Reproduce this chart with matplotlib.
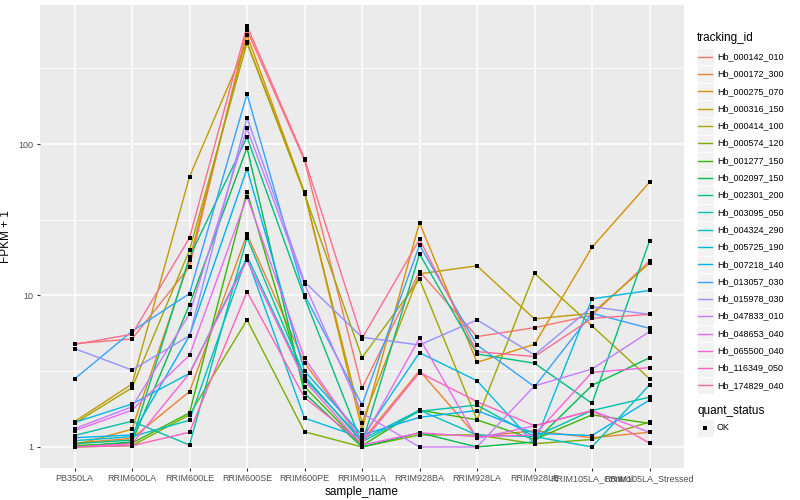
import numpy as np
import matplotlib
matplotlib.use('Agg')
import matplotlib.pyplot as plt
from matplotlib.lines import Line2D
from matplotlib.patches import Rectangle

plt.rcParams['font.family'] = ['Liberation Sans', 'DejaVu Sans']

samples = ['PB350LA', 'RRIM600LA', 'RRIM600LE', 'RRIM600SE', 'RRIM600PE', 'RRIM901LA',
           'RRIM928BA', 'RRIM928LA', 'RRIM928LE', 'RRIM105LA_Control', 'RRIM105LA_Stressed']

tracking_ids = ['Hb_000142_010', 'Hb_000172_300', 'Hb_000275_070', 'Hb_000316_150',
                'Hb_000414_100', 'Hb_000574_120', 'Hb_001277_150', 'Hb_002097_150',
                'Hb_002301_200', 'Hb_003095_050', 'Hb_004324_290', 'Hb_005725_190',
                'Hb_007218_140', 'Hb_013057_030', 'Hb_015978_030', 'Hb_047833_010',
                'Hb_048653_040', 'Hb_065500_040', 'Hb_116349_050', 'Hb_174829_040']

# FPKM + 1 per gene, one value per sample
fpkm1 = [
    [4.81, 5.16, 15.5, 566, 78, 2.44, 14.4, 5.35, 6.13, 7.4, 16.9],
    [1.06, 1.14, 2.32, 25.3, 3.6, 1.1, 3.19, 1.17, 1.28, 1.15, 1.25],
    [1.03, 1.31, 17.1, 525, 48, 1.3, 30.2, 3.62, 4.76, 20.8, 55.9],
    [1.47, 2.6, 60.8, 471, 47.5, 1.45, 13.9, 15.7, 7.0, 7.63, 16.3],
    [1.43, 2.46, 19.9, 464, 47, 3.89, 12.8, 1.51, 14.0, 6.3, 2.82],
    [1.0, 1.02, 1.63, 6.9, 1.26, 1.0, 1.2, 1.2, 1.05, 1.12, 1.46],
    [1.02, 1.06, 1.68, 48.4, 2.5, 1.02, 1.75, 1.51, 1.12, 1.63, 1.43],
    [1.0, 1.08, 8.7, 94.6, 2.26, 1.0, 1.24, 1.0, 1.08, 2.55, 3.88],
    [1.05, 1.11, 17.9, 111, 9.7, 1.05, 18.8, 4.11, 3.57, 1.94, 22.9],
    [1.19, 1.48, 1.03, 24.1, 2.94, 1.08, 1.72, 1.89, 1.17, 1.74, 2.13],
    [1.10, 1.17, 1.5, 18.2, 2.83, 1.12, 1.75, 1.2, 1.17, 1.0, 2.57],
    [1.45, 1.92, 3.06, 17.7, 1.55, 1.15, 4.19, 2.74, 1.05, 9.5, 10.8],
    [1.15, 1.2, 5.43, 68.7, 3.17, 1.2, 1.57, 1.74, 1.23, 1.19, 2.04],
    [2.81, 5.8, 10.3, 214, 10.1, 1.89, 21.5, 4.71, 2.5, 7.63, 6.07],
    [4.46, 3.22, 5.43, 149, 12.3, 5.3, 4.71, 6.9, 4.05, 8.43, 7.5],
    [1.32, 1.84, 7.55, 127, 11.9, 1.67, 1.0, 1.0, 2.53, 3.27, 5.77],
    [1.28, 1.75, 4.03, 44.9, 3.85, 1.1, 5.22, 1.14, 1.38, 1.74, 1.25],
    [1.0, 1.05, 3.06, 17.1, 2.74, 1.03, 1.24, 1.17, 1.2, 3.11, 3.34],
    [1.0, 1.02, 1.25, 10.6, 2.12, 1.06, 3.1, 1.99, 1.38, 1.74, 1.06],
    [4.75, 5.55, 24, 601, 80, 5.2, 23.5, 4.26, 3.95, 7.07, 7.5],
]

# ggplot2 default hue palette for 20 levels
colors = ['#F8766D', '#EA8331', '#D89000', '#C09B00', '#A3A500', '#7CAE00', '#39B600',
          '#00BB4E', '#00BF7D', '#00C1A3', '#00BFC4', '#00BAE0', '#00B0F6', '#35A2FF',
          '#9590FF', '#C77CFF', '#E76BF3', '#FA62DB', '#FF62BC', '#FF6C91']

W, H = 800, 500
fig = plt.figure(figsize=(8, 5), dpi=100)
left, right, bottom, top = 40, 684, 468, 5
ax = fig.add_axes([left / W, 1 - bottom / H, (right - left) / W, (bottom - top) / H])
ax.set_facecolor('#EBEBEB')
for s in ax.spines.values():
    s.set_visible(False)

x = np.arange(len(samples))
for vals, c in zip(fpkm1, colors):
    ax.plot(x, vals, color=c, lw=1.0, zorder=3)
for vals in fpkm1:
    ax.plot(x, vals, 's', color='black', ms=2.8, mew=0, zorder=4, ls='none')

ax.set_yscale('log')
allv = np.array(fpkm1)
lo, hi = np.log10(allv.min()), np.log10(allv.max())
pad = (hi - lo) * 0.05
ax.set_ylim(10 ** (lo - pad), 10 ** (hi + pad))
ax.set_xlim(-0.6, len(samples) - 0.4)

ax.set_yticks([1, 10, 100])
ax.set_yticklabels(['1', '10', '100'])
ax.set_yticks([10 ** 0.5, 10 ** 1.5, 10 ** 2.5], minor=True)
ax.yaxis.set_minor_formatter(plt.NullFormatter())
ax.set_xticks(x)
ax.set_xticklabels(samples)
ax.grid(which='major', color='white', lw=1.1, zorder=0)
ax.grid(which='minor', axis='y', color='white', lw=0.55, zorder=0)
ax.set_axisbelow(True)
ax.tick_params(which='major', length=2.5, color='#333333', labelsize=6.5,
               labelcolor='#4D4D4D', pad=2)
ax.tick_params(which='minor', length=0)
ax.set_xlabel('sample_name', fontsize=8.5, labelpad=2)
ax.set_ylabel('FPKM + 1', fontsize=8.5, labelpad=5)

# legend drawn like ggplot's guide boxes
def fx(px):
    return px / W

def fy(py):
    return 1 - py / H

fig.text(fx(697), fy(38), 'tracking_id', fontsize=8.5, va='center', ha='left')
key = 17.3
for i, (name, c) in enumerate(zip(tracking_ids, colors)):
    cy = 56.7 + i * key
    fig.add_artist(Rectangle((fx(696.5), fy(cy + key / 2)), key / W, key / H,
                             transform=fig.transFigure, facecolor='#F2F2F2',
                             edgecolor='white', lw=0.8))
    fig.add_artist(Line2D([fx(698), fx(712)], [fy(cy), fy(cy)], color=c, lw=1.0,
                          transform=fig.transFigure))
    fig.text(fx(717), fy(cy), name, fontsize=6.5, va='center', ha='left')

fig.text(fx(697), fy(411), 'quant_status', fontsize=8.5, va='center', ha='left')
cy = 428
fig.add_artist(Rectangle((fx(696.5), fy(cy + key / 2)), key / W, key / H,
                         transform=fig.transFigure, facecolor='#F2F2F2',
                         edgecolor='white', lw=0.8))
fig.add_artist(Line2D([fx(705)], [fy(cy)], marker='s', color='black', ms=2.8, mew=0,
                      transform=fig.transFigure))
fig.text(fx(717), fy(cy), 'OK', fontsize=6.5, va='center', ha='left')

fig.savefig('out.png', dpi=100)
